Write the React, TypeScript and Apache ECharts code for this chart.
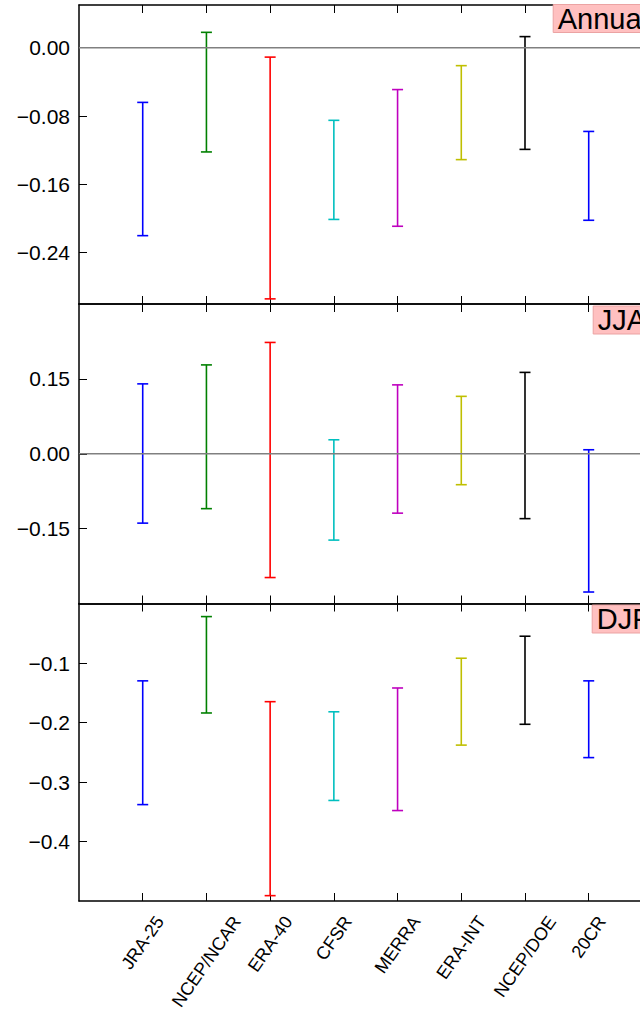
import React, { useEffect, useRef } from 'react';
import * as echarts from 'echarts';

const categories = ['JRA-25', 'NCEP/NCAR', 'ERA-40', 'CFSR', 'MERRA', 'ERA-INT', 'NCEP/DOE', '20CR'];
const barColors = ['#0000ff', '#008000', '#ff0000', '#00bfbf', '#bf00bf', '#bfbf00', '#000000', '#0000ff'];

const annualLow = [-0.220, -0.122, -0.294, -0.201, -0.209, -0.131, -0.119, -0.202];
const annualHigh = [-0.064, 0.018, -0.011, -0.085, -0.049, -0.021, 0.013, -0.098];

const jjaLow = [-0.139, -0.110, -0.248, -0.173, -0.119, -0.062, -0.130, -0.277];
const jjaHigh = [0.140, 0.178, 0.223, 0.028, 0.138, 0.115, 0.163, 0.008];

const djfLow = [-0.338, -0.184, -0.491, -0.331, -0.348, -0.238, -0.203, -0.259];
const djfHigh = [-0.130, -0.022, -0.165, -0.182, -0.142, -0.092, -0.055, -0.130];

const panelNames = ['Annual', 'JJA', 'DJF'];
const annualTicks = [-0.24, -0.16, -0.08, 0];
const jjaTicks = [-0.15, 0, 0.15];
const djfTicks = [-0.4, -0.3, -0.2, -0.1];
const xTickPositions = [1, 2, 3, 4, 5, 6, 7, 8];

const FONT = '"Liberation Sans", Arial, sans-serif';

export default function App() {
  const ref = useRef<HTMLDivElement>(null);

  useEffect(() => {
    if (!ref.current) return;
    const chart = echarts.init(ref.current, null, { renderer: 'svg' });

    const panels = [
      { low: annualLow, high: annualHigh, min: -0.3, max: 0.05, ticks: annualTicks, dec: 2, zero: true, top: 5, height: 299, titleLeft: 552.7, titleTop: 5 },
      { low: jjaLow, high: jjaHigh, min: -0.3, max: 0.3, ticks: jjaTicks, dec: 2, zero: true, top: 304, height: 299.5, titleLeft: 592.7, titleTop: 306.5 },
      { low: djfLow, high: djfHigh, min: -0.5, max: 0, ticks: djfTicks, dec: 1, zero: false, top: 603.5, height: 297.5, titleLeft: 591.7, titleTop: 605.5 },
    ];

    const xMax = 8.805;
    const axisLineStyle = { color: '#000', width: 1.5 };

    const grid: any[] = [];
    const xAxis: any[] = [];
    const yAxis: any[] = [];
    const series: any[] = [];
    const title: any[] = [];

    panels.forEach((p, g) => {
      grid.push({ left: 79, top: p.top, width: 561, height: p.height, show: false });
      ['bottom', 'top'].forEach((pos) => {
        xAxis.push({
          type: 'value', gridIndex: g, min: 0, max: xMax, position: pos,
          axisLine: { show: true, onZero: false, lineStyle: axisLineStyle },
          splitLine: { show: false },
          axisLabel: { show: false },
          axisTick: { show: true, inside: true, length: 8, customValues: xTickPositions, lineStyle: { color: '#000', width: 1 } },
        });
      });
      yAxis.push({
        type: 'value', gridIndex: g, min: p.min, max: p.max, position: 'left',
        axisLine: { show: true, onZero: false, lineStyle: axisLineStyle },
        splitLine: { show: false },
        axisTick: { show: true, inside: true, length: 8, customValues: p.ticks, lineStyle: { color: '#000', width: 1 } },
        axisLabel: {
          customValues: p.ticks, margin: 9, fontSize: 21, color: '#000', fontFamily: FONT,
          formatter: (v: number) => (v < -1e-9 ? '\u2212' : '') + Math.abs(v).toFixed(p.dec),
        },
      });
      series.push({
        type: 'custom', xAxisIndex: 2 * g, yAxisIndex: g, silent: true, z: 2,
        encode: { x: 0, y: [1, 2] },
        data: categories.map((_, i) => [i + 1, p.low[i], p.high[i]]),
        renderItem: (params: any, api: any) => {
          const x = api.value(0);
          const a = api.coord([x, api.value(1)]);
          const b = api.coord([x, api.value(2)]);
          const color = barColors[params.dataIndex];
          const cap = 5.5;
          const style = { stroke: color, lineWidth: 1.6 };
          return {
            type: 'group',
            children: [
              { type: 'line', shape: { x1: a[0], y1: a[1], x2: b[0], y2: b[1] }, style },
              { type: 'line', shape: { x1: a[0] - cap, y1: a[1], x2: a[0] + cap, y2: a[1] }, style },
              { type: 'line', shape: { x1: b[0] - cap, y1: b[1], x2: b[0] + cap, y2: b[1] }, style },
            ],
          };
        },
      });
      if (p.zero) {
        series.push({
          type: 'line', xAxisIndex: 2 * g, yAxisIndex: g, silent: true, z: 3,
          symbol: 'none', data: [[0, 0], [xMax, 0]],
          lineStyle: { color: '#808080', width: 1.5 },
        });
      }
      title.push({
        text: panelNames[g], left: p.titleLeft, top: p.titleTop,
        backgroundColor: '#ffc0c0', borderColor: '#eba3a3', borderWidth: 1,
        padding: [0, 5, 0, 5],
        textStyle: { fontSize: 29, lineHeight: 27, fontWeight: 'normal', fontFamily: FONT, color: '#000' },
      });
    });

    chart.setOption({ animation: false, grid, xAxis, yAxis, series, title });

    const fontSize = 18;
    const font = `${fontSize}px ${FONT}`;
    const ctx = document.createElement('canvas').getContext('2d');
    if (ctx) ctx.font = font;
    const theta = (55 * Math.PI) / 180;
    const graphic = categories.map((c, i) => {
      const pt = chart.convertToPixel({ gridIndex: 2 }, [i + 1, -0.5]) as number[];
      const w = ctx ? ctx.measureText(c).width : c.length * 10;
      const h = fontSize;
      const H = w * Math.sin(theta) + h * Math.cos(theta);
      return {
        type: 'text', x: pt[0], y: pt[1] + 12 + H / 2, rotation: theta, silent: true,
        style: { text: c, font, fill: '#000', align: 'center', verticalAlign: 'middle' },
      };
    });
    chart.setOption({ graphic });

    return () => chart.dispose();
  }, []);

  return <div ref={ref} style={{ position: 'absolute', left: 0, top: 0, width: 640, height: 1015 }} />;
}
